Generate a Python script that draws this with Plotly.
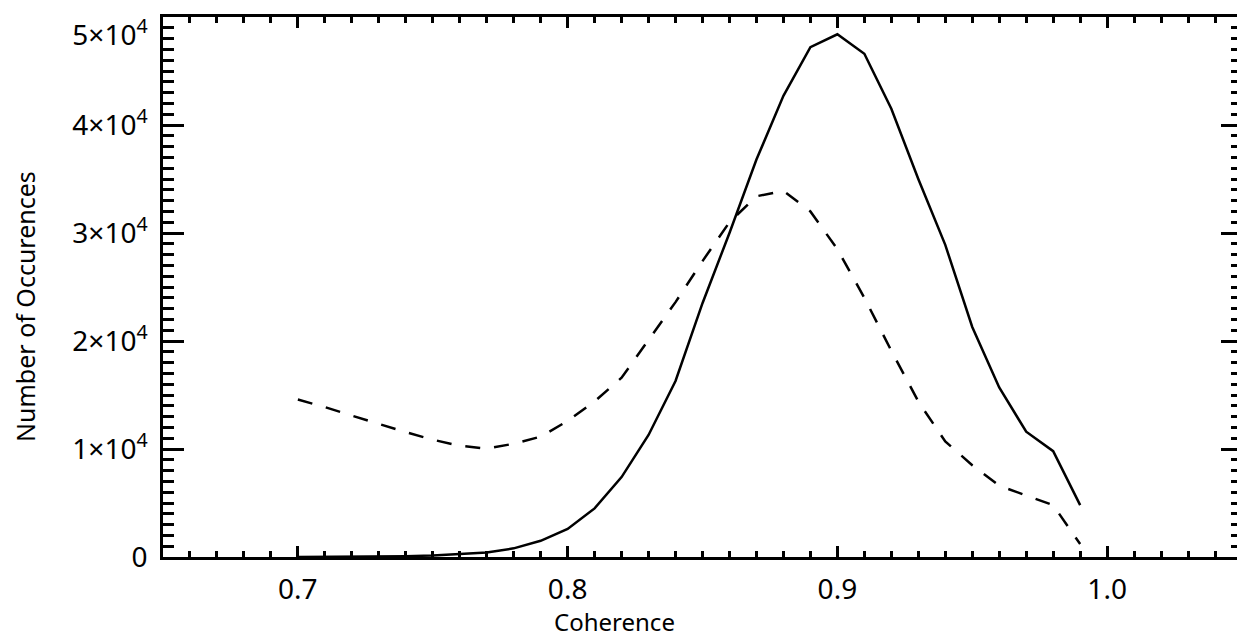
import plotly.graph_objects as go

coherence = [0.70, 0.71, 0.72, 0.73, 0.74, 0.75, 0.76, 0.77, 0.78, 0.79,
             0.80, 0.81, 0.82, 0.83, 0.84, 0.85, 0.86, 0.87, 0.88, 0.89,
             0.90, 0.91, 0.92, 0.93, 0.94, 0.95, 0.96, 0.97, 0.98, 0.99]

solid_counts = [0, 10, 20, 40, 80, 140, 250, 420, 800, 1500,
                2600, 4500, 7400, 11300, 16300, 23500, 30000, 36800, 42700, 47200,
                48400, 46600, 41500, 35000, 28900, 21300, 15700, 11600, 9800, 4800]

dashed_counts = [14580, 13880, 13090, 12300, 11560, 10860, 10300, 10030, 10490, 11140,
                 12600, 14400, 16600, 20100, 23600, 27400, 31000, 33400, 33900, 32000,
                 28500, 24000, 19100, 14400, 10700, 8500, 6600, 5700, 4800, 1200]

y_tickvals = [0, 10000, 20000, 30000, 40000, 50000]
# the top label sits a little below its tick (as in the reference), via a leading blank line
y_ticktext = ["0", "1×10<sup>4</sup>", "2×10<sup>4</sup>", "3×10<sup>4</sup>",
              "4×10<sup>4</sup>", " <br>5×10<sup>4</sup>"]
x_tickvals = [0.7, 0.8, 0.9, 1.0]
x_ticktext = ["0.7", "0.8", "0.9", "1.0"]

x_title = "Coherence"
y_title = "Number of Occurences"

FONT = "Noto Sans"

fig = go.Figure()
fig.add_trace(go.Scatter(x=coherence, y=solid_counts, mode="lines",
                         line=dict(color="black", width=2.5), showlegend=False))
fig.add_trace(go.Scatter(x=coherence, y=dashed_counts, mode="lines",
                         line=dict(color="black", width=2.5, dash="15px,14px"),
                         showlegend=False))

# the page body has an 8px margin, so the figure is sized/offset to compensate
fig.update_layout(
    template="none",
    width=1237, height=629,
    margin=dict(l=155, r=3, t=9, b=80, pad=0),
    paper_bgcolor="white", plot_bgcolor="white",
    font=dict(family=FONT, color="black"),
    showlegend=False,
)

fig.update_xaxes(
    range=[0.65, 1.05], showgrid=False, zeroline=False, automargin=False,
    showline=True, linecolor="black", linewidth=2.5, mirror="ticks",
    ticks="inside", ticklen=11, tickwidth=2.5, tickcolor="black",
    tickvals=x_tickvals, ticktext=x_ticktext,
    tickfont=dict(family=FONT, size=28, color="black"),
    ticklabelstandoff=6, ticklabeloverflow="allow",
    minor=dict(ticks="inside", ticklen=6, tickwidth=2.5, tickcolor="black",
               dtick=0.01, showgrid=False),
)
fig.update_yaxes(
    range=[0, 50000], showgrid=False, zeroline=False, automargin=False,
    showline=True, linecolor="black", linewidth=2.5, mirror="ticks",
    ticks="inside", ticklen=21, tickwidth=2.5, tickcolor="black",
    tickvals=y_tickvals, ticktext=y_ticktext,
    tickfont=dict(family=FONT, size=28, color="black"),
    ticklabelstandoff=7, ticklabeloverflow="allow",
    minor=dict(ticks="inside", ticklen=11, tickwidth=2.5, tickcolor="black",
               dtick=1000, showgrid=False),
)

fig.add_annotation(text=x_title, xref="paper", yref="paper",
                   x=(614 - 163) / 1079, y=(557 - 621) / 540,
                   xanchor="center", yanchor="middle", showarrow=False,
                   font=dict(family=FONT, size=24, color="black"))
fig.add_annotation(text=y_title, xref="paper", yref="paper",
                   x=(25 - 163) / 1079, y=(557 - 307) / 540, textangle=-90,
                   xanchor="center", yanchor="middle", showarrow=False,
                   font=dict(family=FONT, size=25, color="black"))

fig.write_html("out.html")
